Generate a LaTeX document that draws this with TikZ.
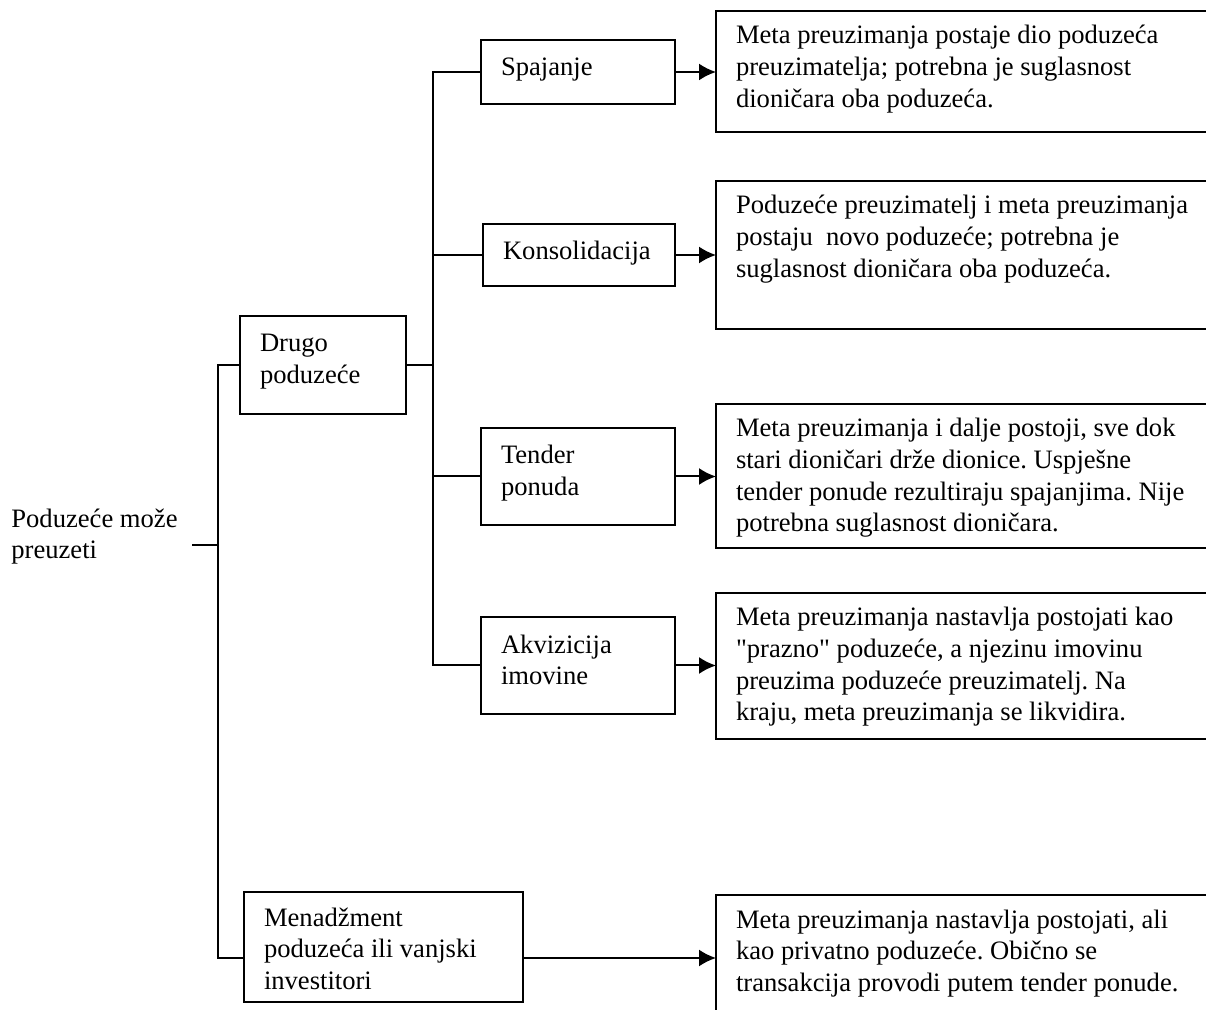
\documentclass[tikz,border=0pt]{standalone}
\usepackage{fontspec}
\setmainfont{Liberation Serif}[Ligatures=TeXOff]
\usetikzlibrary{arrows.meta}
\frenchspacing
\newcommand\bt[4]{\parbox[c][#2][t]{#1}{\vspace*{#3}\leftskip=10pt\rightskip=0pt plus 1fil\parindent=0pt\frenchspacing\rule{0pt}{10pt}#4\par}}
\begin{document}
\begin{tikzpicture}[x=0.5pt,y=-0.5pt,
  font=\fontsize{13.3}{15.8}\selectfont,
  bx/.style={draw,line width=1pt,inner sep=0pt,outer sep=0pt,anchor=north west},
  plain/.style={inner sep=0pt,anchor=north west},
  ln/.style={line width=1pt},
  arr/.style={line width=1pt,-{Latex[length=8.5pt,width=8.5pt]}}]
\useasboundingbox (0,0) rectangle (1206,1010);

% root text
\node[plain] (root) at (-9,492) {\bt{110pt}{40pt}{7.5pt}{Poduzeće može\\preuzeti}};

% left level boxes
\node[bx] (drugo) at (240,316) {\bt{83pt}{49pt}{8pt}{Drugo\\poduzeće}};
\node[bx] (menad) at (244,892) {\bt{139.5pt}{55pt}{7pt}{Menadžment\\poduzeća ili vanjski\\investitori}};

% middle boxes
\node[bx] (m1) at (481,40) {\bt{97pt}{32pt}{8pt}{Spajanje}};
\node[bx] (m2) at (483,224) {\bt{96pt}{31pt}{8pt}{Konsolidacija}};
\node[bx] (m3) at (481,428) {\bt{97pt}{48.5pt}{8pt}{Tender\\ponuda}};
\node[bx] (m4) at (481,617) {\bt{97pt}{48.5pt}{8pt}{Akvizicija\\imovine}};

% right boxes
\node[bx] (r1) at (716,11) {\bt{249.5pt}{60.5pt}{6.5pt}{Meta preuzimanja postaje dio poduzeća\\preuzimatelja; potrebna je suglasnost\\dioničara oba poduzeća.}};
\node[bx] (r2) at (716,181) {\bt{249.5pt}{74pt}{6.5pt}{Poduzeće preuzimatelj i meta preuzimanja\\postaju\ \ novo poduzeće; potrebna je\\suglasnost dioničara oba poduzeća.}};
\node[bx] (r3) at (716,404) {\bt{249.5pt}{72pt}{6.5pt}{Meta preuzimanja i dalje postoji, sve dok\\stari dioničari drže dionice. Uspješne\\tender ponude rezultiraju spajanjima. Nije\\potrebna suglasnost dioničara.}};
\node[bx] (r4) at (716,593) {\bt{249.5pt}{73pt}{6.5pt}{Meta preuzimanja nastavlja postojati kao\\"prazno" poduzeće, a njezinu imovinu\\preuzima poduzeće preuzimatelj. Na\\kraju, meta preuzimanja se likvidira.}};
\node[bx] (r5) at (716,895) {\bt{249.5pt}{65pt}{6.5pt}{Meta preuzimanja nastavlja postojati, ali\\kao privatno poduzeće. Obično se\\transakcija provodi putem tender ponude.}};

% connectors
\coordinate (tb) at (218,958);
\coordinate (vt) at (433,72);
\coordinate (rootout) at (192,545);
\draw[ln] (rootout) -- (rootout -| tb);
\draw[ln] (drugo.west) -| (tb) -- (tb -| menad.west);
\draw[ln] (drugo.east) -- (drugo.east -| vt);
\draw[ln] (m1.west) -- (m1.west -| vt) -- (m4.west -| vt) -- (m4.west);
\draw[ln] (m2.west) -- (m2.west -| vt);
\draw[ln] (m3.west) -- (m3.west -| vt);

% arrows
\draw[arr] (m1.east) -- (m1.east -| r1.west);
\draw[arr] (m2.east) -- (m2.east -| r2.west);
\draw[arr] (m3.east) -- (m3.east -| r3.west);
\draw[arr] (m4.east) -- (m4.east -| r4.west);
\draw[arr] (tb -| menad.east) -- (tb -| r5.west);
\end{tikzpicture}
\end{document}
